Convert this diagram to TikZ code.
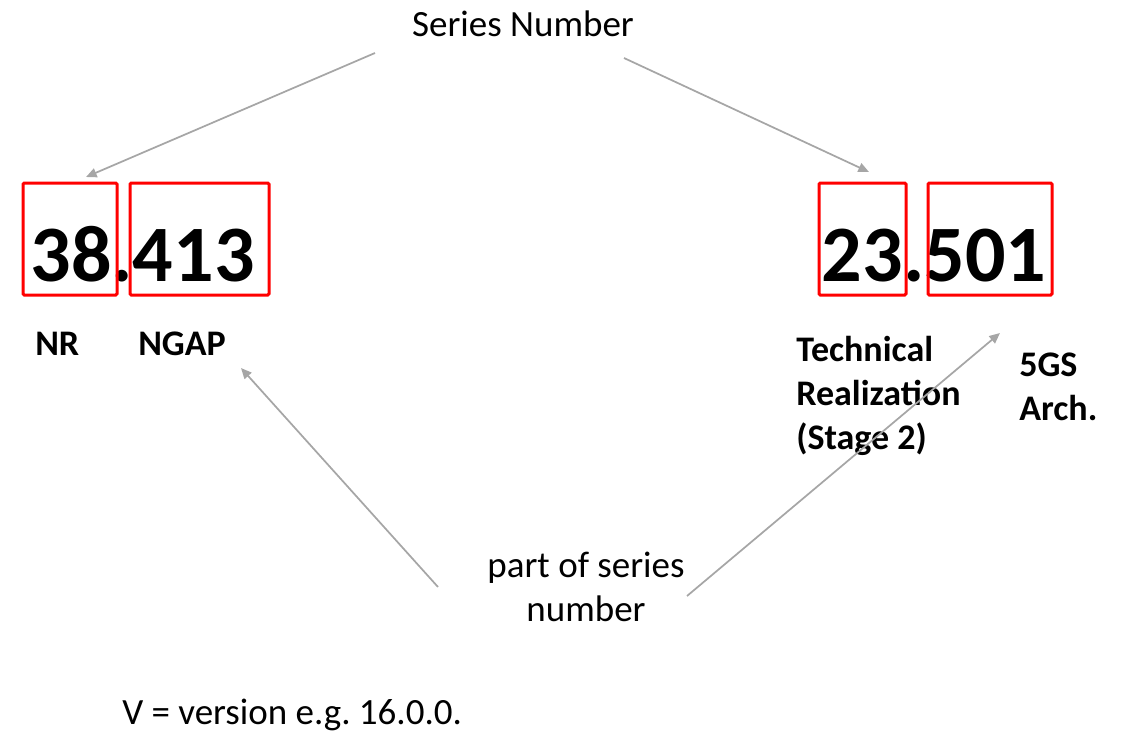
\documentclass[tikz,border=0pt]{standalone}
\usepackage{fontspec}
\setmainfont{Carlito}
\usetikzlibrary{arrows.meta}
\frenchspacing
\begin{document}
\begin{tikzpicture}[x=0.75pt,y=-0.75pt,
  txt/.style={inner sep=0pt,font=\fontsize{27.75}{33}\selectfont},
  lbl/.style={inner sep=0pt,align=left,font=\fontsize{27}{33}\selectfont\bfseries},
  num/.style={inner sep=0pt,font=\fontsize{60}{70}\selectfont\bfseries},
  redbox/.style={draw=red,line width=2.25pt,rounded corners=1pt,minimum height=84pt},
  pointer/.style={draw={rgb,255:red,166;green,166;blue,166},line width=1.3pt,
    -{Triangle[length=8pt,width=7pt]}}]
\useasboundingbox (0,0) rectangle (1124,743);

% heading and number strings
\node[txt,anchor=base] (series) at (523,36) {Series Number};
\node[num,anchor=base] (nr) at (142.5,281) {38.413};
\node[num,anchor=base] (ts) at (934,281) {23.501};

% red frames around the number parts
\node[redbox,minimum width=70.5pt] (b1) at (70,239) {};
\node[redbox,minimum width=104.25pt] (b2) at (199.5,239) {};
\node[redbox,minimum width=65.25pt] (b3) at (862.5,239) {};
\node[redbox,minimum width=93pt] (b4) at (990,239) {};

% meaning of each part (base anchor sits on the last line)
\node[lbl,anchor=base west] (lnr) at (35,355) {NR};
\node[lbl,anchor=base west] (lngap) at (138,355) {NGAP};
\node[lbl,anchor=base west] (ltech) at (796,449) {Technical\\Realization\\(Stage 2)};
\node[lbl,anchor=base west] (l5gs) at (1019,420) {5GS\\Arch.};

\node[txt,align=center,anchor=base] (part) at (586,621) {part of series\\number};
\node[txt,anchor=base west] (ver) at (122,724) {V = version e.g. 16.0.0.};

% arrow ends
\coordinate (s1) at (375,53);
\coordinate (t1) at (86,177);
\coordinate (s2) at (624,58);
\coordinate (t2) at (869,172);
\coordinate (s3) at (438,587);
\coordinate (t3) at (241,368);
\coordinate (s4) at (687,596);
\coordinate (t4) at (1000,333);

\draw[pointer] (s1) -- (t1);
\draw[pointer] (s2) -- (t2);
\draw[pointer] (s3) -- (t3);
\draw[pointer] (s4) -- (t4);
\end{tikzpicture}
\end{document}
